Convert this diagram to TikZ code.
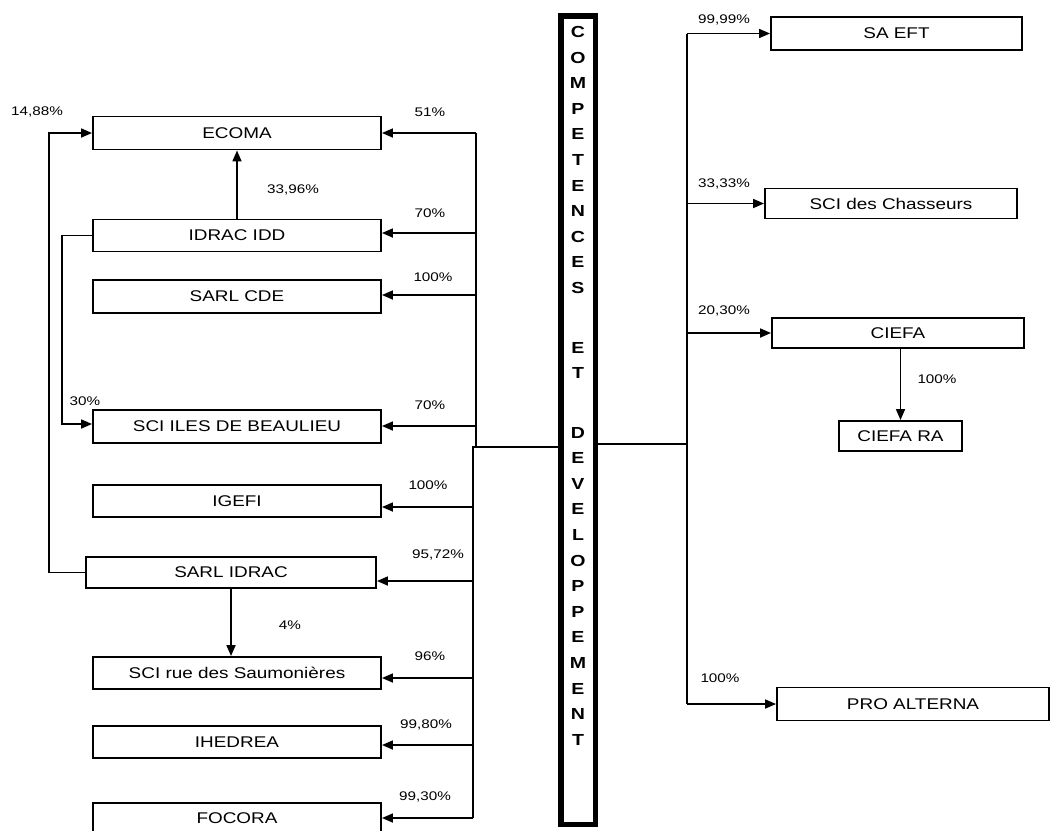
\documentclass[tikz,border=0pt]{standalone}
\usepackage{fontspec}
\setmainfont{Liberation Sans}[FakeStretch=1.22]
\usetikzlibrary{arrows.meta}
\begin{document}
\begin{tikzpicture}[x=1pt,y=-1pt,
  box/.style={draw, line width=1.9pt, inner sep=0pt, font=\fontsize{15.5}{18}\selectfont},
  lbl/.style={inner sep=0pt, font=\fontsize{12.5}{14}\selectfont},
  cl/.style={inner sep=0pt, font=\fontsize{16}{18}\selectfont\bfseries},
  conn/.style={line width=1.7pt},
  arr/.style={conn, -{Triangle[length=11pt,width=9pt]}}]
\useasboundingbox (0,0) rectangle (1056,830);

% central box
\node[draw, line width=5.5pt, minimum width=34.5pt, minimum height=808.5pt, inner sep=0pt] (cd) at (578,420) {};
\foreach \l/\yy [count=\i] in {C/32,O/57.6,M/83.2,P/108.8,E/134.4,T/160,E/185.6,N/211.2,C/236.8,E/262.4,S/288,
  E/347.5,T/373.1,
  D/432.6,E/458.2,V/483.8,E/509.4,L/535,O/560.6,P/586.2,P/611.8,E/637.4,M/663,E/688.6,N/714.2,T/739.8}
  \node[cl] (L\i) at (578,\yy) {\l};

% left boxes
\node[box, minimum width=288pt, minimum height=33pt] (ecoma) at (237,133) {ECOMA};
\node[box, minimum width=288pt, minimum height=32pt] (idracidd) at (237,235.5) {IDRAC IDD};
\node[box, minimum width=288pt, minimum height=33pt] (sarlcde) at (237,296.5) {SARL CDE};
\node[box, minimum width=288pt, minimum height=33pt] (sciiles) at (237,426.5) {SCI ILES DE BEAULIEU};
\node[box, minimum width=288pt, minimum height=32pt] (igefi) at (237,501) {IGEFI};
\node[box, minimum width=290pt, minimum height=31pt] (sarlidrac) at (231,572.5) {SARL IDRAC};
\node[box, minimum width=288pt, minimum height=32pt] (scirue) at (237,673) {SCI rue des Saumonières};
\node[box, minimum width=288pt, minimum height=32pt] (ihedrea) at (237,742) {IHEDREA};
\node[box, minimum width=288pt, minimum height=30pt] (focora) at (237,818) {FOCORA};

% right boxes
\node[box, minimum width=251pt, minimum height=33pt] (saeft) at (896.5,33.5) {SA EFT};
\node[box, minimum width=252pt, minimum height=30pt] (scich) at (891,203.5) {SCI des Chasseurs};
\node[box, minimum width=252pt, minimum height=30pt] (ciefa) at (898,333) {CIEFA};
\node[box, minimum width=123pt, minimum height=30pt] (ciefara) at (900.5,436) {CIEFA RA};
\node[box, minimum width=272pt, minimum height=33pt] (proalt) at (913,704) {PRO ALTERNA};

% left bus
\coordinate (lb1) at (476,133);
\coordinate (lb2) at (476,233);
\coordinate (lb3) at (476,295);
\coordinate (lb4) at (476,426);
\coordinate (lbj) at (476,447);
\coordinate (lhub) at (473,447);
\coordinate (lb5) at (473,507);
\coordinate (lb6) at (473,581);
\coordinate (lb7) at (473,678);
\coordinate (lb8) at (473,745);
\coordinate (lb9) at (473,818);
\draw[conn] (lb1) -- (lbj) -- (lhub) -- (lb9);
\draw[conn] (lhub) -- (lhub -| cd.west);
\draw[arr] (lb1) -- (lb1 -| ecoma.east);
\draw[arr] (lb2) -- (lb2 -| idracidd.east);
\draw[arr] (lb3) -- (lb3 -| sarlcde.east);
\draw[arr] (lb4) -- (lb4 -| sciiles.east);
\draw[arr] (lb5) -- (lb5 -| igefi.east);
\draw[arr] (lb6) -- (lb6 -| sarlidrac.east);
\draw[arr] (lb7) -- (lb7 -| scirue.east);
\draw[arr] (lb8) -- (lb8 -| ihedrea.east);
\draw[arr] (lb9) -- (lb9 -| focora.east);

% left internal links
\draw[arr] (idracidd.north) -- (ecoma.south);
\coordinate (k1) at (62,235.5);
\coordinate (k1b) at (62,424);
\draw[arr] (idracidd.west) -- (k1) -- (k1b) -- (k1b -| sciiles.west);
\coordinate (k2) at (49,572.5);
\draw[arr] (sarlidrac.west) -- (k2) |- (ecoma.west);
\draw[arr] (sarlidrac.south) -- (sarlidrac.south |- scirue.north);

% right bus
\coordinate (rhub) at (687,444);
\coordinate (rb1) at (687,33.5);
\coordinate (rb4) at (687,704);
\draw[conn] (rhub -| cd.east) -- (rhub);
\draw[conn] (rb1) -- (rb4);
\draw[arr] (rb1) -- (saeft.west);
\draw[arr] (rb1 |- scich.west) -- (scich.west);
\draw[arr] (rb1 |- ciefa.west) -- (ciefa.west);
\draw[arr] (rb4) -- (proalt.west);
\draw[arr] (ciefa.south -| ciefara.north) -- (ciefara.north);

% labels
\node[lbl] (p1) at (37,112) {14,88\%};
\node[lbl] (p2) at (430,112) {51\%};
\node[lbl] (p3) at (293,190) {33,96\%};
\node[lbl] (p4) at (430,213) {70\%};
\node[lbl] (p5) at (433,277) {100\%};
\node[lbl] (p6) at (85,401) {30\%};
\node[lbl] (p7) at (430,405) {70\%};
\node[lbl] (p8) at (428,485) {100\%};
\node[lbl] (p9) at (438,555) {95,72\%};
\node[lbl] (p10) at (290,625) {4\%};
\node[lbl] (p11) at (430,656) {96\%};
\node[lbl] (p12) at (426,725) {99,80\%};
\node[lbl] (p13) at (425,797) {99,30\%};
\node[lbl] (p14) at (724,20) {99,99\%};
\node[lbl] (p15) at (724,184) {33,33\%};
\node[lbl] (p16) at (724,311) {20,30\%};
\node[lbl] (p17) at (937,379) {100\%};
\node[lbl] (p18) at (720,678) {100\%};
\end{tikzpicture}
\end{document}
